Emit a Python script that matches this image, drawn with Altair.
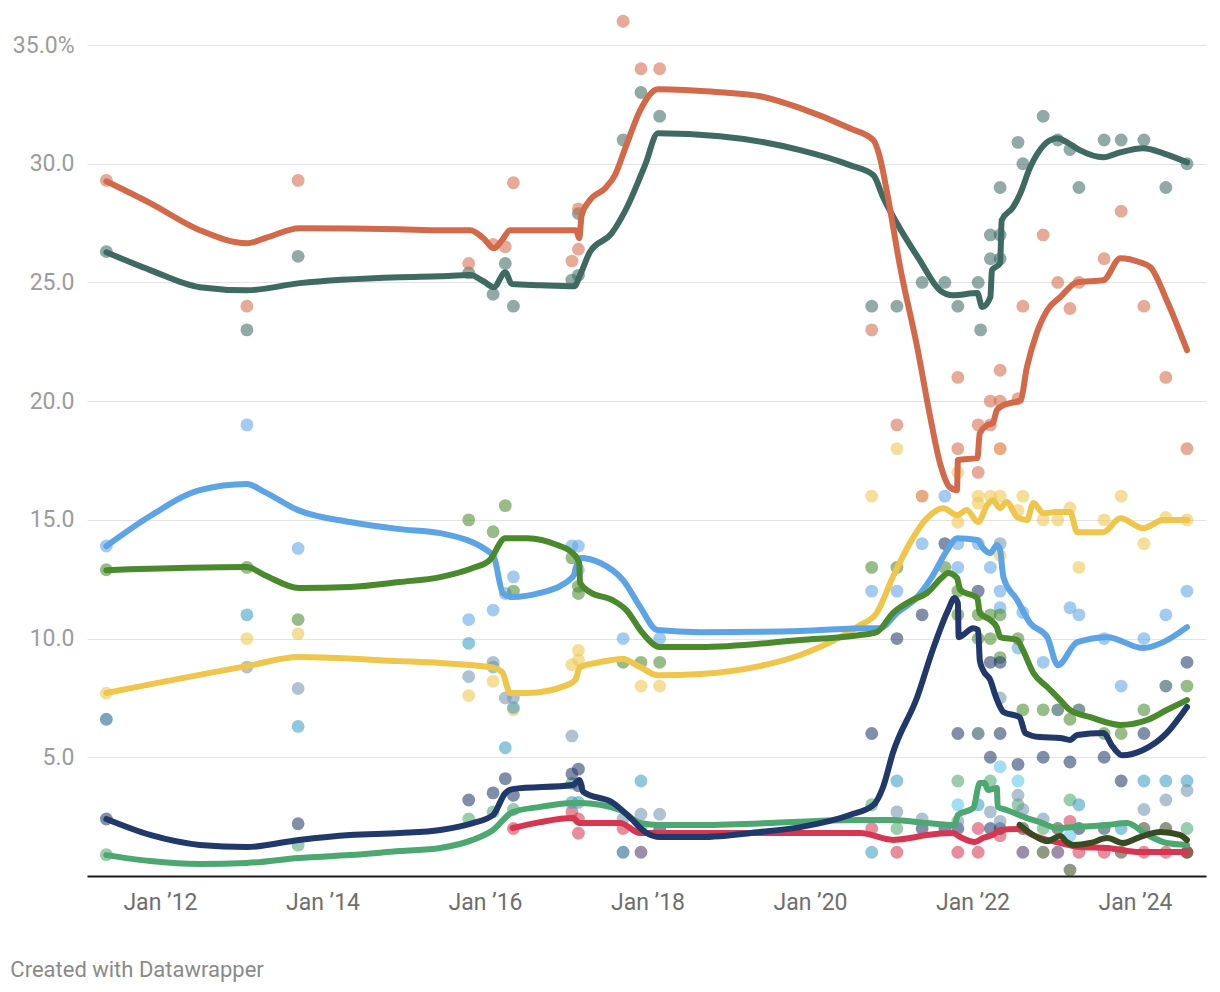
import altair as alt
import pandas as pd

# ---------------- data (decimal year, percent) ----------------
orange_line = [(2011.34,29.26),(2011.88,28.34),(2012.49,27.2),(2013.07,26.65),(2013.32,26.9),(2013.72,27.28),
 (2014.95,27.24),(2015.45,27.2),(2015.82,27.2),(2015.98,26.86),(2016.11,26.44),(2016.21,26.78),(2016.31,27.2),
 (2017.12,27.2),(2017.16,26.86),(2017.19,27.83),(2017.29,28.46),(2017.48,28.97),(2017.60,29.52),(2017.74,30.78),
 (2017.91,32.25),(2018.13,33.14),(2018.89,33.01),(2019.39,32.84),(2019.88,32.34),(2020.49,31.49),(2020.78,30.99),
 (2020.86,30.27),(2020.95,28.76),(2021.11,25.64),(2021.32,22.27),(2021.48,19.33),(2021.60,17.39),(2021.72,16.38),
 (2021.81,16.25),(2021.82,17.52),(2022.06,17.6),(2022.09,18.65),(2022.18,18.99),(2022.25,19.07),(2022.30,19.62),
 (2022.38,19.83),(2022.59,20.04),(2022.67,21.43),(2022.79,22.86),(2022.92,23.83),(2023.08,24.38),(2023.29,25.01),
 (2023.61,25.09),(2023.82,26.02),(2024.06,25.85),(2024.19,25.64),(2024.39,24.25),(2024.64,22.15)]
teal_line = [(2011.34,26.27),(2011.88,25.52),(2012.49,24.8),(2013.07,24.67),(2013.72,24.97),(2014.95,25.22),
 (2015.45,25.26),(2015.82,25.31),(2015.98,25.05),(2016.11,24.8),(2016.25,25.43),(2016.33,24.93),(2016.68,24.88),
 (2017.10,24.84),(2017.17,25.31),(2017.29,26.27),(2017.56,27.07),(2017.76,28.25),(2017.97,29.94),(2018.13,31.28),
 (2018.89,31.16),(2019.88,30.57),(2020.49,29.94),(2020.78,29.52),(2020.90,28.59),(2021.07,27.49),(2021.35,25.94),
 (2021.60,24.67),(2021.76,24.46),(2022.06,24.55),(2022.12,23.96),(2022.22,24.38),(2022.24,25.52),(2022.34,25.81),
 (2022.36,27.62),(2022.50,28.17),(2022.59,28.76),(2022.71,29.85),(2023.04,31.07),(2023.16,30.91),(2023.32,30.57),
 (2023.61,30.27),(2023.82,30.48),(2024.10,30.65),(2024.35,30.44),(2024.64,30.06)]
blue_line = [(2011.34,13.89),(2011.88,15.16),(2012.49,16.25),(2013.07,16.51),(2013.29,16.17),(2013.70,15.41),
 (2014.34,14.91),(2014.95,14.61),(2015.45,14.44),(2016.10,13.52),(2016.22,11.92),(2016.33,11.75),(2016.68,11.92),
 (2017.08,12.59),(2017.17,13.39),(2017.42,13.18),(2017.70,12.46),(2017.91,11.33),(2018.12,10.36),(2018.65,10.27),
 (2019.88,10.32),(2020.74,10.44),(2020.86,10.44),(2021.07,11.07),(2021.32,11.75),(2021.50,12.59),(2021.69,13.73),
 (2021.81,14.23),(2022.06,14.15),(2022.13,13.81),(2022.22,13.6),(2022.30,13.94),(2022.34,13.73),(2022.38,12.59),
 (2022.55,11.62),(2022.71,10.65),(2022.92,10.06),(2023.05,8.88),(2023.29,9.85),(2023.66,10.06),(2024.10,9.6),
 (2024.35,9.85),(2024.64,10.48)]
green_line = [(2011.34,12.88),(2013.07,13.01),(2013.29,12.67),(2013.71,12.13),(2014.34,12.17),(2014.95,12.38),
 (2015.45,12.59),(2015.85,12.97),(2016.06,13.31),(2016.25,14.23),(2016.52,14.23),(2016.89,13.94),(2017.08,13.6),
 (2017.16,13.18),(2017.17,12.34),(2017.29,11.96),(2017.57,11.62),(2017.74,11.2),(2017.94,10.23),(2018.15,9.64),
 (2018.65,9.64),(2019.88,9.94),(2020.62,10.15),(2020.82,10.27),(2021.02,11.07),(2021.26,11.62),(2021.44,11.92),
 (2021.63,12.59),(2021.70,12.76),(2021.81,12.55),(2021.85,12.04),(2022.06,11.71),(2022.09,11.07),(2022.22,10.78),
 (2022.30,10.48),(2022.34,10.06),(2022.55,9.94),(2022.62,9.52),(2022.75,8.55),(2022.92,7.96),(2023.08,7.41),
 (2023.20,6.99),(2023.45,6.69),(2023.82,6.36),(2024.15,6.57),(2024.39,6.99),(2024.64,7.41)]
yellow_line = [(2011.34,7.71),(2013.07,8.84),(2013.71,9.22),(2014.95,9.05),(2015.45,8.97),(2016.06,8.8),
 (2016.21,8.59),(2016.31,7.71),(2016.52,7.71),(2017.01,8.04),(2017.11,8.25),(2017.17,8.8),(2017.42,9.01),
 (2017.69,9.14),(2017.91,8.8),(2018.12,8.46),(2018.65,8.51),(2019.38,8.84),(2019.88,9.31),(2020.37,10.06),
 (2020.62,10.57),(2020.82,11.07),(2021.02,12.59),(2021.23,14.02),(2021.44,15.07),(2021.64,15.49),(2021.81,15.2),
 (2021.93,15.41),(2022.07,14.91),(2022.18,15.62),(2022.25,15.83),(2022.34,15.49),(2022.42,15.75),(2022.55,15.12),
 (2022.67,14.99),(2022.75,15.71),(2022.87,15.28),(2023.04,15.33),(2023.20,15.33),(2023.29,14.48),(2023.61,14.48),
 (2023.82,15.07),(2024.10,14.65),(2024.35,14.99),(2024.64,14.99)]
navy_line = [(2011.34,2.4),(2011.88,1.73),(2012.49,1.31),(2013.07,1.22),(2013.71,1.52),(2014.34,1.73),(2014.95,1.81),
 (2015.45,1.94),(2015.85,2.23),(2016.10,2.57),(2016.25,3.49),(2016.34,3.66),(2017.08,3.83),(2017.16,4.04),
 (2017.21,3.54),(2017.58,3.07),(2017.78,2.48),(2017.99,1.81),(2018.15,1.64),(2018.65,1.64),(2019.38,1.85),
 (2019.88,2.06),(2020.49,2.57),(2020.78,2.99),(2020.90,3.75),(2021.02,5.18),(2021.32,7.54),(2021.51,9.52),
 (2021.70,11.2),(2021.78,11.71),(2021.82,11.49),(2021.83,10.06),(2022.01,10.44),(2022.07,10.36),(2022.09,9.09),
 (2022.13,8.67),(2022.22,8.25),(2022.28,7.62),(2022.34,7.12),(2022.38,6.91),(2022.58,6.69),(2022.65,6.02),
 (2022.83,5.85),(2023.08,5.81),(2023.20,5.73),(2023.29,5.94),(2023.61,6.02),(2023.73,5.43),(2023.84,5.09),
 (2024.10,5.31),(2024.39,6.02),(2024.64,7.12)]
seagreen_line = [(2011.34,0.88),(2011.88,0.63),(2012.49,0.51),(2013.07,0.55),(2013.71,0.76),(2014.34,0.88),
 (2014.95,1.05),(2015.45,1.18),(2015.85,1.52),(2016.10,1.94),(2016.34,2.69),(2016.68,2.91),(2017.08,3.07),
 (2017.17,3.07),(2017.66,2.78),(2017.91,2.23),(2018.15,2.15),(2018.65,2.15),(2020.62,2.36),(2021.02,2.36),
 (2021.44,2.23),(2021.78,2.15),(2021.82,2.57),(2022.01,2.86),(2022.09,3.92),(2022.15,3.92),(2022.19,3.62),
 (2022.30,3.71),(2022.31,2.91),(2022.42,2.78),(2022.67,2.44),(2022.83,2.27),(2023.04,2.02),(2023.24,2.06),
 (2023.66,2.15),(2023.90,2.23),(2024.15,1.73),(2024.39,1.39),(2024.64,1.31)]
red_line = [(2016.34,2.02),(2016.68,2.27),(2017.08,2.44),(2017.17,2.23),(2017.66,2.23),(2017.91,1.81),(2018.65,1.81),
 (2020.62,1.81),(2021.02,1.52),(2021.23,1.6),(2021.44,1.73),(2021.76,1.81),(2021.85,1.64),(2022.03,1.43),
 (2022.13,1.6),(2022.25,1.73),(2022.34,1.94),(2022.58,1.98),(2022.74,1.73),(2022.92,1.52),(2023.08,1.39),
 (2023.32,1.22),(2023.66,1.18),(2024.06,1.01),(2024.64,1.01)]
olive_line = [(2022.58,2.15),(2022.79,1.64),(2022.92,1.47),(2023.08,1.68),(2023.16,1.43),(2023.24,1.31),
 (2023.45,1.39),(2023.66,1.6),(2023.85,1.39),(2024.06,1.64),(2024.31,1.85),(2024.55,1.73),(2024.64,1.52)]

orange_dots = [(2011.34,29.3),(2013.07,24.0),(2013.70,29.3),(2015.80,25.8),(2016.10,26.6),(2016.25,26.5),
 (2016.35,29.2),(2017.07,25.9),(2017.15,28.1),(2017.15,26.4),(2017.70,36.0),(2017.92,34.0),(2018.15,34.0),
 (2020.76,23.0),(2021.07,19.0),(2021.82,21.0),(2021.82,18.0),(2022.07,17.0),(2022.07,19.0),(2022.22,20.0),
 (2022.22,19.0),(2022.34,20.0),(2022.34,21.3),(2022.56,20.1),(2022.62,24.0),(2022.87,27.0),(2023.05,25.0),
 (2023.20,23.9),(2023.31,25.0),(2023.62,26.0),(2023.83,28.0),(2024.11,24.0),(2024.38,21.0),(2024.64,18.0)]
teal_dots = [(2011.34,26.3),(2013.07,23.0),(2013.70,26.1),(2015.80,25.4),(2016.10,24.5),(2016.25,25.8),
 (2016.35,24.0),(2017.07,25.1),(2017.15,27.9),(2017.15,25.3),(2017.70,31.0),(2017.92,33.0),(2018.15,32.0),
 (2020.76,24.0),(2021.07,24.0),(2021.38,25.0),(2021.66,25.0),(2021.82,24.0),(2022.07,25.0),(2022.10,23.0),
 (2022.22,27.0),(2022.22,26.0),(2022.34,27.0),(2022.34,26.0),(2022.34,29.0),(2022.56,30.9),(2022.62,30.0),
 (2022.87,32.0),(2023.05,31.0),(2023.20,30.6),(2023.31,29.0),(2023.62,31.0),(2023.83,31.0),(2024.11,31.0),
 (2024.38,29.0),(2024.64,30.0)]
blue_dots = [(2011.34,13.9),(2013.07,19.0),(2013.70,13.8),(2015.80,10.8),(2016.10,11.2),(2016.25,11.9),
 (2016.35,12.6),(2017.07,13.9),(2017.15,13.9),(2017.15,12.9),(2017.70,10.0),(2018.15,10.0),(2020.76,12.0),
 (2021.07,12.0),(2021.38,14.0),(2021.66,16.0),(2021.82,14.0),(2021.82,13.0),(2022.07,14.0),(2022.22,13.0),
 (2022.34,12.0),(2022.34,11.3),(2022.56,9.6),(2022.62,11.1),(2022.87,9.0),(2023.20,11.3),(2023.31,11.0),
 (2023.62,10.0),(2023.83,8.0),(2024.11,10.0),(2024.38,11.0),(2024.64,12.0)]
green_dots = [(2011.34,12.9),(2013.07,13.0),(2013.70,10.8),(2015.80,15.0),(2016.10,14.5),(2016.25,15.6),
 (2016.35,12.0),(2017.07,13.4),(2017.15,12.2),(2017.15,11.9),(2017.70,9.0),(2017.92,9.0),(2018.15,9.0),
 (2020.76,13.0),(2021.07,13.0),(2021.66,13.0),(2021.82,12.0),(2021.82,11.0),(2022.07,11.0),(2022.07,10.0),
 (2022.22,11.0),(2022.22,10.0),(2022.34,11.0),(2022.34,9.2),(2022.56,10.0),(2022.62,7.0),(2022.87,7.0),
 (2023.20,6.6),(2023.62,6.0),(2023.83,6.0),(2024.11,7.0),(2024.64,8.0)]
yellow_dots = [(2011.34,7.7),(2013.07,10.0),(2013.70,10.2),(2015.80,7.6),(2016.10,8.2),(2016.35,7.0),
 (2017.07,8.9),(2017.15,9.5),(2017.15,9.1),(2017.92,8.0),(2018.15,8.0),(2020.76,16.0),(2021.07,18.0),
 (2021.82,17.0),(2021.82,14.9),(2022.07,16.0),(2022.07,15.7),(2022.22,16.0),(2022.34,16.0),(2022.34,13.5),
 (2022.56,15.4),(2022.62,16.0),(2022.87,15.0),(2023.05,15.0),(2023.20,15.5),(2023.31,13.0),(2023.62,15.0),
 (2023.83,16.0),(2024.11,14.0),(2024.38,15.1),(2024.64,15.0)]
navy_dots = [(2011.34,2.4),(2013.70,2.2),(2015.80,3.2),(2016.10,3.5),(2016.25,4.1),(2016.35,3.4),(2017.07,4.3),
 (2017.15,4.5),(2017.15,3.8),(2018.15,2.0),(2020.76,6.0),(2021.07,10.0),(2021.38,11.0),(2021.38,2.0),
 (2021.66,14.0),(2021.66,2.0),(2021.82,6.0),(2021.82,2.0),(2022.07,12.0),(2022.22,9.0),(2022.22,5.0),
 (2022.22,2.0),(2022.34,9.0),(2022.34,6.0),(2022.34,2.0),(2022.56,4.7),(2022.87,5.0),(2023.20,4.8),
 (2023.31,2.0),(2023.62,5.0),(2023.83,4.0),(2024.11,6.0),(2024.64,9.0)]
seagreen_dots = [(2011.34,0.9),(2013.70,1.3),(2015.80,2.4),(2016.10,2.7),(2016.35,2.8),(2017.07,3.9),
 (2017.92,2.0),(2020.76,3.0),(2021.07,2.0),(2021.82,4.0),(2022.22,4.0),(2022.56,3.0),(2022.87,2.0),
 (2023.20,3.2),(2024.64,2.0)]
red_dots = [(2016.35,2.0),(2017.07,2.7),(2017.15,1.8),(2017.15,2.4),(2017.70,2.0),(2020.76,2.0),(2021.07,1.0),
 (2021.82,1.0),(2022.07,2.0),(2022.07,1.0),(2022.34,1.7),(2023.20,2.3),(2023.31,1.0),(2023.62,1.0),
 (2024.11,1.0),(2024.38,1.0),(2024.64,1.0)]
olive_dots = [(2022.62,2.0),(2022.87,1.0),(2023.05,2.0),(2023.20,0.25),(2023.83,1.0),(2024.11,2.0),
 (2024.38,2.0),(2024.64,1.0)]
tealblue_dots = [(2013.07,11.0),(2013.70,6.3),(2015.80,9.8),(2016.10,8.8),(2016.25,5.4),(2016.35,7.1),
 (2017.07,3.1),(2017.15,3.1),(2017.92,4.0),(2020.76,1.0),(2021.07,4.0),(2022.07,3.0),(2023.31,3.0),
 (2023.83,2.0),(2024.11,4.0),(2024.38,4.0),(2024.64,4.0)]
graybue_dots = [(2013.07,8.8),(2013.70,7.9),(2015.80,8.4),(2016.10,9.0),(2016.25,7.5),(2016.35,7.5),
 (2017.07,5.9),(2017.70,2.4),(2017.92,2.6),(2018.15,2.6),(2021.07,2.7),(2021.38,2.4),(2021.82,2.3),
 (2022.22,2.7),(2022.34,14.0),(2022.34,7.5),(2022.34,2.3),(2022.56,3.4),(2022.62,2.8),(2022.87,2.4),
 (2024.11,2.8),(2024.38,3.2),(2024.64,3.6)]
slate_dots = [(2022.07,6.0),(2023.05,7.0),(2023.31,7.0),(2023.62,2.0),(2024.38,8.0)]
purple_dots = [(2017.92,1.0),(2022.62,1.0),(2023.05,1.0)]
amber_dots = [(2021.38,16.0),(2022.34,18.0)]
cyan_dots = [(2021.82,3.0),(2022.34,4.6),(2022.56,4.0),(2023.20,1.7)]
darkblue_dots = [(2011.34,6.6),(2017.70,1.0)]

series_names = ["seagreen", "red", "olive", "yellow", "blue", "green", "navy", "teal", "orange",
                "tealblue", "graybue", "slate", "purple", "amber", "cyan", "darkblue"]
series_colors = ["#4CA771", "#D63651", "#3A4A23", "#F0C54C", "#5DA4E6", "#4A8A2D", "#20386A", "#3E6A61",
                 "#D4694A", "#3A9CC4", "#7393AE", "#1E4F55", "#4E3868", "#D86A1C", "#5CC6EA", "#1A5F8C"]
x_ticks = [2012, 2014, 2016, 2018, 2020, 2022, 2024]
y_ticks = [5, 10, 15, 20, 25, 30, 35]
credit = "Created with Datawrapper"

# ---------------- tables ----------------
line_sets = [("seagreen", seagreen_line), ("red", red_line), ("olive", olive_line), ("yellow", yellow_line),
             ("blue", blue_line), ("green", green_line), ("navy", navy_line), ("teal", teal_line),
             ("orange", orange_line)]
dot_sets = [("seagreen", seagreen_dots), ("red", red_dots), ("olive", olive_dots), ("yellow", yellow_dots),
            ("blue", blue_dots), ("green", green_dots), ("navy", navy_dots), ("teal", teal_dots),
            ("orange", orange_dots), ("tealblue", tealblue_dots), ("graybue", graybue_dots),
            ("slate", slate_dots), ("purple", purple_dots), ("amber", amber_dots), ("cyan", cyan_dots),
            ("darkblue", darkblue_dots)]

lines_df = pd.DataFrame([{"series": n, "t": t, "v": v, "i": k}
                         for n, pts in line_sets for k, (t, v) in enumerate(pts)])
dots_df = pd.DataFrame([{"series": n, "t": t, "v": v} for n, pts in dot_sets for (t, v) in pts])

W, H = 1119, 831
FS = 23
xscale = alt.Scale(domain=[2011.102, 2024.874], nice=False, zero=False)
yscale = alt.Scale(domain=[0, 35], nice=False)
cscale = alt.Scale(domain=series_names, range=series_colors)

xaxis = alt.Axis(values=x_ticks, labelExpr="'Jan \u2019' + substring(toString(datum.value), 2, 4)",
                 grid=False, ticks=False, domain=True, domainColor="#1a1a1a", domainWidth=2,
                 labelFontSize=FS, labelColor="#6e6e6e", labelPadding=15, title=None,
                 labelFont="Roboto")
yaxis = alt.Axis(values=y_ticks, labelExpr="datum.value == 35 ? '35.0%' : format(datum.value, '.1f')",
                 grid=True, gridColor="#e3e3e3", gridWidth=1.2, ticks=False, domain=False,
                 labelFontSize=FS, labelColor="#9c9c9c", labelPadding=13, title=None, labelFont="Roboto")

dots = alt.Chart(dots_df).mark_circle(size=165, opacity=0.57).encode(
    x=alt.X("t:Q", scale=xscale, axis=xaxis),
    y=alt.Y("v:Q", scale=yscale, axis=yaxis),
    color=alt.Color("series:N", scale=cscale, legend=None),
)

lines = alt.Chart(lines_df).mark_line(strokeWidth=6, interpolate="monotone", strokeCap="round",
                                      strokeJoin="round").encode(
    x=alt.X("t:Q", scale=xscale, axis=xaxis),
    y=alt.Y("v:Q", scale=yscale, axis=yaxis),
    color=alt.Color("series:N", scale=cscale, legend=None),
    detail="series:N",
    order="i:Q",
)

chart = alt.layer(dots, lines).properties(
    width=W, height=H,
    autosize=alt.AutoSizeParams(type="none"),
    padding={"left": 79, "top": 37, "right": 6, "bottom": 120},
    title=alt.Title(credit, orient="bottom", anchor="start", frame="bounds", offset=46,
                    fontSize=22, fontWeight="normal", color="#8a8a8a", font="Roboto", dx=-2),
).configure(font="Roboto").configure_view(stroke="transparent", strokeWidth=0)

chart.save("out.html", embed_options={"renderer": "svg", "actions": False})
